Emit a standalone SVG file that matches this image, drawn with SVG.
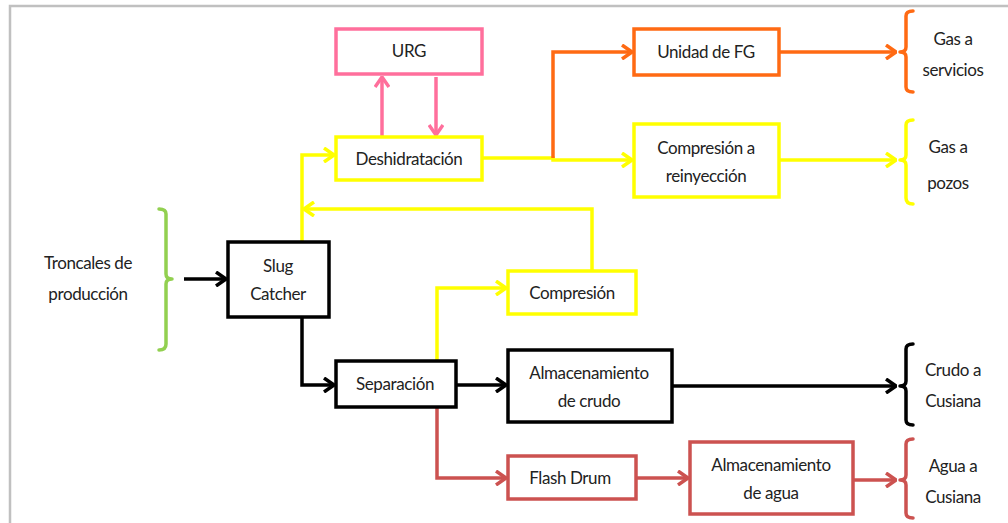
<svg xmlns="http://www.w3.org/2000/svg" width="1008" height="523" viewBox="0 0 1008 523">
  <style>
    .box { fill: #ffffff; stroke-width: 3.5; }
    .lbl { font-family: Lato, "Liberation Sans", sans-serif; font-size: 17px; letter-spacing: -0.4px; fill: #222222; text-anchor: middle; }
    .ln { fill: none; stroke-width: 3.5; stroke-linejoin: miter; }
    .br { fill: none; stroke-width: 3.5; stroke-linecap: round; stroke-linejoin: round; }
    .k { stroke: #000000; }
    .y { stroke: #ffff00; }
    .p { stroke: #ff6f9c; }
    .o { stroke: #ff6a13; }
    .r { stroke: #cc5250; }
    .g { stroke: #92d050; }
  </style>
  <defs>
    <marker id="ak" viewBox="0 0 12 16" refX="11" refY="8" markerWidth="12" markerHeight="16" markerUnits="userSpaceOnUse" orient="auto">
      <path d="M1,1 L11,8 L1,15" fill="none" stroke="#000000" stroke-width="3.5"/>
    </marker>
    <marker id="ay" viewBox="0 0 12 16" refX="11" refY="8" markerWidth="12" markerHeight="16" markerUnits="userSpaceOnUse" orient="auto">
      <path d="M1,1 L11,8 L1,15" fill="none" stroke="#ffff00" stroke-width="3.5"/>
    </marker>
    <marker id="ap" viewBox="0 0 12 16" refX="11" refY="8" markerWidth="12" markerHeight="16" markerUnits="userSpaceOnUse" orient="auto">
      <path d="M1,1 L11,8 L1,15" fill="none" stroke="#ff6f9c" stroke-width="3.5"/>
    </marker>
    <marker id="ao" viewBox="0 0 12 16" refX="11" refY="8" markerWidth="12" markerHeight="16" markerUnits="userSpaceOnUse" orient="auto">
      <path d="M1,1 L11,8 L1,15" fill="none" stroke="#ff6a13" stroke-width="3.5"/>
    </marker>
    <marker id="ar" viewBox="0 0 12 16" refX="11" refY="8" markerWidth="12" markerHeight="16" markerUnits="userSpaceOnUse" orient="auto">
      <path d="M1,1 L11,8 L1,15" fill="none" stroke="#cc5250" stroke-width="3.5"/>
    </marker>
  </defs>

  <rect width="1008" height="523" fill="#ffffff"/>
  <!-- page frame -->
  <path d="M10,523 L10,6 L1008,6" fill="none" stroke="#c0c0c0" stroke-width="2.5"/>

  <!-- connectors -->
  <g id="connectors">
    <path class="ln k" d="M184,279 L226,279" marker-end="url(#ak)"/>
    <path class="ln y" d="M302,242 L302,155 L334,155" marker-end="url(#ay)"/>
    <path class="ln y" d="M592,271 L592,209 L304,209" marker-end="url(#ay)"/>
    <path class="ln p" d="M382,137 L382,77" marker-end="url(#ap)"/>
    <path class="ln p" d="M436,77 L436,135" marker-end="url(#ap)"/>
    <path class="ln y" d="M482,158 L553,158 L553,160 L632,160" marker-end="url(#ay)"/>
    <path class="ln o" d="M553,158 L553,52 L632,52" marker-end="url(#ao)"/>
    <path class="ln o" d="M779,52 L896,52" marker-end="url(#ao)"/>
    <path class="ln y" d="M779,160 L896,160" marker-end="url(#ay)"/>
    <path class="ln k" d="M302,317 L302,385 L334,385" marker-end="url(#ak)"/>
    <path class="ln y" d="M437,361 L437,288 L506,288" marker-end="url(#ay)"/>
    <path class="ln k" d="M456,385 L506,385" marker-end="url(#ak)"/>
    <path class="ln r" d="M437,407 L437,478 L506,478" marker-end="url(#ar)"/>
    <path class="ln k" d="M672,386 L896,386" marker-end="url(#ak)"/>
    <path class="ln r" d="M636,478 L688,478" marker-end="url(#ar)"/>
    <path class="ln r" d="M853,480 L896,480" marker-end="url(#ar)"/>
  </g>

  <g id="troncales">
    <path class="br g" d="M159,209 Q166,209 166,214 L166,274 Q166,279 172,279 Q166,279 166,284 L166,344 Q166,350 159,350"/>
    <text class="lbl" x="88" y="269">Troncales de</text>
    <text class="lbl" x="88" y="300">producción</text>
  </g>

  <g id="slug-catcher">
    <rect class="box k" x="228" y="242" width="101" height="75"/>
    <text class="lbl" x="278" y="272">Slug</text>
    <text class="lbl" x="278" y="300">Catcher</text>
  </g>

  <g id="urg">
    <rect class="box p" x="336" y="29" width="146" height="45"/>
    <text class="lbl" x="409" y="57">URG</text>
  </g>

  <g id="deshidratacion">
    <rect class="box y" x="336" y="137" width="146" height="43"/>
    <text class="lbl" x="409" y="165">Deshidratación</text>
  </g>

  <g id="unidad-fg">
    <rect class="box o" x="634" y="29" width="145" height="46"/>
    <text class="lbl" x="706" y="58">Unidad de FG</text>
  </g>

  <g id="compresion-reinyeccion">
    <rect class="box y" x="634" y="124" width="145" height="73"/>
    <text class="lbl" x="706" y="154">Compresión a</text>
    <text class="lbl" x="706" y="182">reinyección</text>
  </g>

  <g id="compresion">
    <rect class="box y" x="508" y="271" width="128" height="43"/>
    <text class="lbl" x="572" y="299">Compresión</text>
  </g>

  <g id="separacion">
    <rect class="box k" x="336" y="361" width="120" height="46"/>
    <text class="lbl" x="395" y="390">Separación</text>
  </g>

  <g id="almacenamiento-crudo">
    <rect class="box k" x="508" y="350" width="164" height="72"/>
    <text class="lbl" x="589" y="379">Almacenamiento</text>
    <text class="lbl" x="589" y="407">de crudo</text>
  </g>

  <g id="flash-drum">
    <rect class="box r" x="508" y="456" width="128" height="43"/>
    <text class="lbl" x="570" y="484">Flash Drum</text>
  </g>

  <g id="almacenamiento-agua">
    <rect class="box r" x="690" y="442" width="163" height="72"/>
    <text class="lbl" x="771" y="471">Almacenamiento</text>
    <text class="lbl" x="771" y="499">de agua</text>
  </g>

  <g id="gas-servicios">
    <path class="br o" d="M913,11 Q906,11 906,16 L906,47 Q906,52 900,52 Q906,52 906,57 L906,87 Q906,92 913,92"/>
    <text class="lbl" x="953" y="45">Gas a</text>
    <text class="lbl" x="953" y="76">servicios</text>
  </g>

  <g id="gas-pozos">
    <path class="br y" d="M913,120 Q906,120 906,125 L906,155 Q906,160 900,160 Q906,160 906,165 L906,198 Q906,204 913,204"/>
    <text class="lbl" x="948" y="153">Gas a</text>
    <text class="lbl" x="948" y="189">pozos</text>
  </g>

  <g id="crudo-cusiana">
    <path class="br k" d="M913,344 Q906,344 906,349 L906,381 Q906,386 900,386 Q906,386 906,391 L906,420 Q906,425 913,425"/>
    <text class="lbl" x="953" y="376">Crudo a</text>
    <text class="lbl" x="953" y="407">Cusiana</text>
  </g>

  <g id="agua-cusiana">
    <path class="br r" d="M913,439 Q906,439 906,444 L906,475 Q906,480 900,480 Q906,480 906,485 L906,513 Q906,518 913,518"/>
    <text class="lbl" x="953" y="472">Agua a</text>
    <text class="lbl" x="953" y="503">Cusiana</text>
  </g>
</svg>
